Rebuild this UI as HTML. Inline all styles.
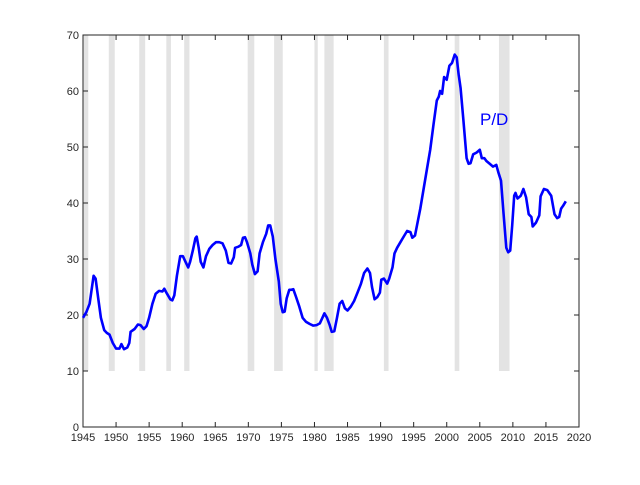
<!DOCTYPE html>
<html><head><meta charset="utf-8"><style>
html,body{margin:0;padding:0;background:#fff;}
svg text{font-family:"Liberation Sans",sans-serif;}
</style></head><body>
<svg id="chart" width="640" height="480" viewBox="0 0 640 480" xmlns="http://www.w3.org/2000/svg">
<g id="bands"></g>
<g id="axes"></g>
<path id="line" fill="none" stroke="#0000ff" stroke-width="2.6" stroke-linejoin="round"/>
<text x="480" y="125" font-size="17" fill="#0000ff">P/D</text>
</svg>
<script>
const xTicks=[1945,1950,1955,1960,1965,1970,1975,1980,1985,1990,1995,2000,2005,2010,2015,2020];
const yTicks=[0,10,20,30,40,50,60,70];
const recStart=[1945.1,1948.9,1953.5,1957.6,1960.3,1969.9,1973.9,1980.0,1981.5,1990.5,2001.2,2007.9];
const recEnd=[1945.8,1949.8,1954.4,1958.3,1961.1,1970.9,1975.2,1980.5,1982.9,1991.2,2001.9,2009.5];
const years=[1945.0,1945.5,1946.0,1946.3,1946.6,1946.9,1947.3,1947.7,1948.2,1948.6,1949.0,1949.5,1950.0,1950.5,1950.8,1951.2,1951.7,1952.0,1952.2,1952.8,1953.3,1953.7,1954.2,1954.6,1955.0,1955.5,1956.0,1956.5,1957.0,1957.3,1957.7,1958.2,1958.5,1958.8,1959.2,1959.7,1960.1,1960.5,1960.9,1961.2,1961.6,1962.0,1962.2,1962.5,1962.8,1963.2,1963.6,1964.1,1964.6,1965.1,1965.6,1966.1,1966.6,1967.0,1967.4,1967.8,1968.0,1968.5,1968.9,1969.2,1969.5,1969.8,1970.3,1970.6,1971.0,1971.4,1971.7,1972.2,1972.7,1973.0,1973.3,1973.7,1974.1,1974.6,1974.9,1975.2,1975.5,1975.8,1976.2,1976.5,1976.8,1977.2,1977.7,1978.2,1978.7,1979.3,1979.8,1980.3,1980.8,1981.2,1981.5,1981.9,1982.3,1982.6,1983.0,1983.4,1983.8,1984.2,1984.6,1985.0,1985.5,1986.0,1986.5,1987.0,1987.5,1988.0,1988.4,1988.7,1989.1,1989.5,1989.9,1990.1,1990.5,1991.0,1991.3,1991.8,1992.1,1992.5,1993.0,1993.5,1994.0,1994.5,1994.8,1995.2,1995.5,1996.0,1996.5,1997.0,1997.5,1998.0,1998.5,1998.8,1999.0,1999.3,1999.6,2000.0,2000.4,2000.8,2001.2,2001.5,2001.8,2002.1,2002.5,2003.0,2003.3,2003.6,2004.0,2004.5,2005.0,2005.3,2005.7,2006.0,2006.5,2007.0,2007.5,2007.8,2008.2,2008.6,2009.0,2009.3,2009.6,2009.9,2010.2,2010.4,2010.7,2011.2,2011.6,2012.0,2012.4,2012.8,2013.0,2013.5,2014.0,2014.2,2014.7,2015.2,2015.8,2016.3,2016.7,2017.0,2017.3,2017.6,2018.0];
const pd=[19.5,20.5,22,24.5,27,26.5,23,19.5,17.3,16.8,16.5,15,14,14,14.8,13.9,14.2,15,17,17.5,18.3,18.2,17.5,18,19.5,22,23.8,24.3,24.2,24.7,23.8,22.8,22.6,23.5,27,30.5,30.5,29.5,28.5,29.5,31.5,33.7,34,32,29.5,28.5,30.5,31.8,32.5,33,33,32.8,31.5,29.3,29.2,30.3,32,32.2,32.5,33.8,33.9,33,31,29,27.3,27.8,31,33,34.5,36,36,34,30,26,22,20.5,20.6,23,24.5,24.5,24.6,23.3,21.5,19.5,18.8,18.4,18.1,18.2,18.5,19.5,20.3,19.5,18.2,17,17.1,19.5,22,22.5,21.2,20.8,21.5,22.5,24,25.5,27.5,28.3,27.5,25,22.8,23.2,24,26.3,26.5,25.6,26.5,28.5,31,32,33,34,35,34.8,33.8,34.2,36,39,42.5,46,49.5,54,58.3,59,60,59.5,62.5,62,64.5,65,66.5,66,63,60.5,55,48,47,47.1,48.7,49,49.5,48,48,47.5,47,46.5,46.8,45.5,44,38,32,31.2,31.5,36,41.3,41.8,40.8,41.3,42.5,41,38,37.5,35.8,36.5,37.8,41.2,42.5,42.3,41.3,38,37.3,37.5,39,39.5,40.3];
const X0=83,X1=579,Y0=427,Y1=35;
const xs=v=>X0+(v-1945)/(2020-1945)*(X1-X0);
const ys=v=>Y0-(v/70)*(Y0-Y1);
const NS="http://www.w3.org/2000/svg";
const bands=document.getElementById('bands');
for(let i=0;i<recStart.length;i++){
  const r=document.createElementNS(NS,'rect');
  r.setAttribute('x',xs(recStart[i]));r.setAttribute('width',xs(recEnd[i])-xs(recStart[i]));
  r.setAttribute('y',ys(70));r.setAttribute('height',ys(10)-ys(70));r.setAttribute('fill','#e3e3e3');
  
  
  bands.appendChild(r);
}
const ax=document.getElementById('axes');
const box=document.createElementNS(NS,'rect');
box.setAttribute('x',X0);box.setAttribute('y',Y1);box.setAttribute('width',X1-X0);box.setAttribute('height',Y0-Y1);
box.setAttribute('fill','none');box.setAttribute('stroke','#262626');box.setAttribute('stroke-width','1');


ax.appendChild(box);
let d='';
xTicks.forEach(t=>{const x=xs(t);d+=`M${x},${Y0}v-5M${x},${Y1}v5`;
  const tx=document.createElementNS(NS,'text');tx.setAttribute('x',x);tx.setAttribute('y',Y0+14);
  tx.setAttribute('text-anchor','middle');tx.setAttribute('font-size','11');tx.setAttribute('fill','#262626');tx.textContent=t;
  
  
  ax.appendChild(tx);});
yTicks.forEach(t=>{const y=ys(t);d+=`M${X0},${y}h5M${X1},${y}h-5`;
  const tx=document.createElementNS(NS,'text');tx.setAttribute('x',X0-4);tx.setAttribute('y',y+4);
  tx.setAttribute('text-anchor','end');tx.setAttribute('font-size','11');tx.setAttribute('fill','#262626');tx.textContent=t;
  
  
  ax.appendChild(tx);});
const tk=document.createElementNS(NS,'path');tk.setAttribute('d',d);tk.setAttribute('stroke','#262626');tk.setAttribute('fill','none');


ax.appendChild(tk);
document.getElementById('line').setAttribute('d',years.map((y,i)=>(i?'L':'M')+xs(y).toFixed(1)+','+ys(pd[i]).toFixed(1)).join(''));
</script>
</body></html>
